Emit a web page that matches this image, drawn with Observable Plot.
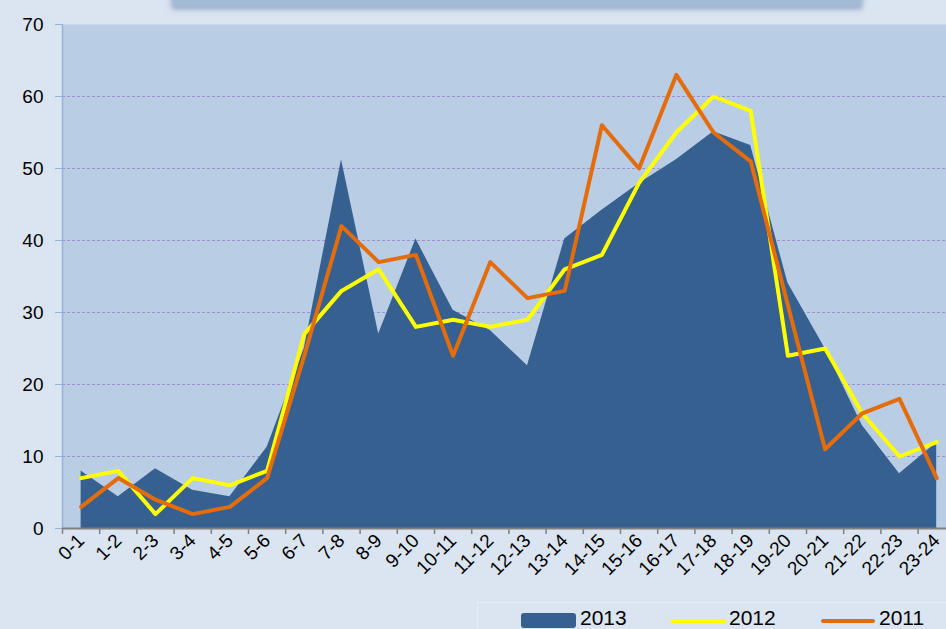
<!DOCTYPE html>
<html><head><meta charset="utf-8">
<script src="https://cdn.jsdelivr.net/npm/d3@7"></script>
<script src="https://cdn.jsdelivr.net/npm/@observablehq/plot@0.6"></script>
<style>
body{margin:0;background:#DBE5F1;}
#wrap{position:relative;width:946px;height:629px;overflow:hidden;background:#DBE5F1;font-family:"Liberation Sans",Arial,sans-serif;}
#titlebox{position:absolute;left:172px;top:-40px;width:690px;height:46px;background:#A3BAD7;box-shadow:0 3px 5px rgba(80,110,150,0.55);filter:blur(1.5px);}
#chart{position:absolute;left:0;top:0;}
#legend{position:absolute;left:477px;top:602px;width:480px;height:40px;border-top:1px solid #E6EDF6;border-left:1px solid #E6EDF6;}
.lg{position:absolute;}
.txt{position:absolute;top:606px;font-size:21px;line-height:24px;color:#000;}
</style></head>
<body>
<div id="wrap">
  <div id="chart"></div>
  <div id="titlebox"></div>
  <div id="legend"></div>
  <div class="lg" style="left:521px;top:613px;width:55px;height:15px;background:#36608F;border-radius:3px;"></div>
  <div class="txt" style="left:580px;">2013</div>
  <div class="lg" style="left:671px;top:619px;width:55px;height:4px;background:#FFFF00;"></div>
  <div class="txt" style="left:729px;">2012</div>
  <div class="lg" style="left:821px;top:619px;width:54px;height:4px;background:#E46C0A;border-radius:2px;"></div>
  <div class="txt" style="left:879px;">2011</div>
</div>
<script>
const cats = ["0-1","1-2","2-3","3-4","4-5","5-6","6-7","7-8","8-9","9-10","10-11","11-12","12-13","13-14","14-15","15-16","16-17","17-18","18-19","19-20","20-21","21-22","22-23","23-24"];
const v2013 = [8, 4.4, 8.3, 5.3, 4.4, 11.3, 25, 51.2, 27, 40.2, 30.3, 27.5, 22.6, 40.2, 44.2, 47.9, 51.2, 55.1, 53.2, 34.1, 25, 14.3, 7.6, 11.9];
const v2012 = [7, 8, 2, 7, 6, 8, 27, 33, 36, 28, 29, 28, 29, 36, 38, 48, 55, 60, 58, 24, 25, 16, 10, 12];
const v2011 = [3, 7, 4, 2, 3, 7, 24, 42, 37, 38, 24, 37, 32, 33, 56, 50, 63, 55, 51, 31, 11, 16, 18, 7];
const yTicks = [0, 10, 20, 30, 40, 50, 60, 70];

const idx = d3.range(cats.length);
const rows = idx.map(i => ({i, cat: cats[i], a: v2013[i], b: v2012[i], c: v2011[i]}));
const gridTicks = yTicks.filter(t => t > 0 && t < 70);
const bounds = d3.range(-0.5, cats.length, 1);

const chart = Plot.plot({
  width: 946, height: 600,
  marginTop: 24, marginBottom: 72, marginLeft: 62, marginRight: 0,
  style: {background: "transparent", fontFamily: "'Liberation Sans', Arial, sans-serif", color: "#000", overflow: "visible"},
  x: {type: "linear", domain: [-0.5, cats.length - 0.5], range: [62, 62 + cats.length * 37.2], label: null},
  y: {domain: [0, 70], range: [528, 24], label: null},
  marks: [
    Plot.frame({fill: "#B9CDE5", stroke: null}),
    Plot.ruleY(gridTicks, {stroke: "#9E8FCF", strokeDasharray: "3,2", strokeWidth: 1}),
    Plot.areaY(rows, {x: "i", y: "a", fill: "#36608F"}),
    Plot.lineY(rows, {x: "i", y: "b", stroke: "#FFFF00", strokeWidth: 4}),
    Plot.lineY(rows, {x: "i", y: "c", stroke: "#E46C0A", strokeWidth: 4}),
    Plot.ruleX([-0.5], {stroke: "#95B3D7", strokeWidth: 1.5}),
    Plot.ruleY([0], {stroke: "#808080", strokeWidth: 2}),
    Plot.axisY(yTicks, {tickSize: 7, tickPadding: 12, stroke: "#95B3D7", fill: "#000", fontSize: 19, label: null}),
    Plot.axisX(bounds, {tickSize: 6, tickFormat: () => "", stroke: "#808080", strokeWidth: 1.5, label: null}),
    Plot.axisX(idx, {tickSize: 0, tickPadding: 9, tickRotate: -45, tickFormat: i => cats[i], fill: "#000", fontSize: 19, label: null, ariaLabel: "xlabels"})
  ]
});
d3.select(chart).selectAll("g[aria-label='xlabels'] text").style("letter-spacing", "1.2px");
document.getElementById("chart").appendChild(chart);
</script>
</body></html>
